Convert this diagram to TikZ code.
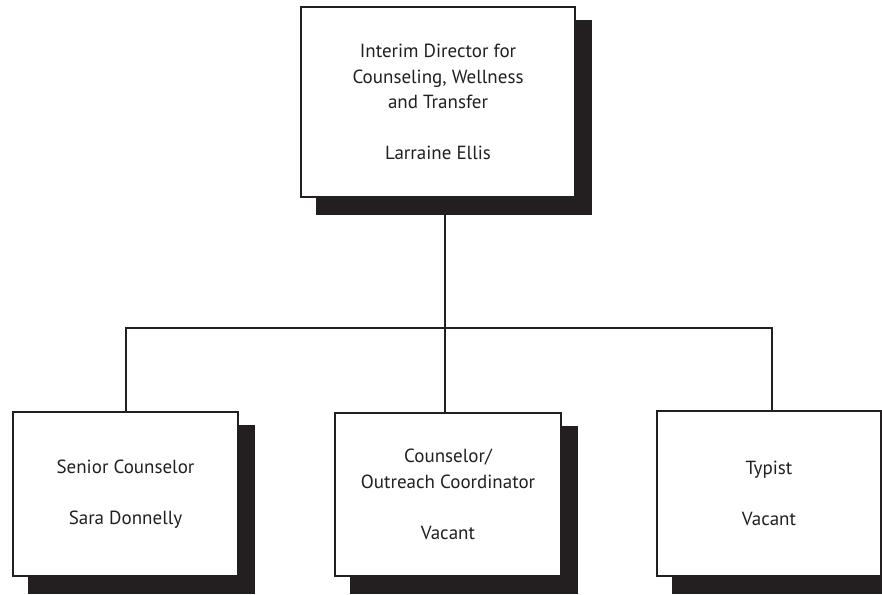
\documentclass[tikz,border=0pt]{standalone}
\usepackage{fontspec}
\setmainfont{PT Sans}
\usetikzlibrary{calc,backgrounds}
\definecolor{ink}{HTML}{231F20}
\tikzset{
  orgbox/.style={draw=ink, line width=2pt, fill=white, rectangle, inner sep=0pt,
    align=center, text=ink, font=\fontsize{19}{25.5}\selectfont},
  shadowfill/.style={fill=ink, draw=none},
  link/.style={draw=ink, line width=2pt}
}
\begin{document}
\begin{tikzpicture}[x=1pt, y=-1pt]
\useasboundingbox (0,0) rectangle (882,594);
\clip (0,0) rectangle (882,594);
% boxes
\node[orgbox, minimum width=274pt, minimum height=190pt] (top) at (438,102)
  {Interim Director for\\Counseling, Wellness\\and Transfer\\[25.5pt]Larraine Ellis};
\node[orgbox, minimum width=225pt, minimum height=164pt] (senior) at (125.5,494)
  {Senior Counselor\\[25.5pt]Sara Donnelly};
\node[orgbox, minimum width=226pt, minimum height=163pt] (middle) at (448,494.5)
  {Counselor/\\Outreach Coordinator\\[25.5pt]Vacant};
\node[orgbox, minimum width=224pt, minimum height=165pt] (typist) at (769,493.5)
  {Typist\\[25.5pt]Vacant};
% bus coordinates
\coordinate (j) at (445,328);
\coordinate (bl) at (126,328);
\coordinate (br) at (772,328);
\begin{scope}[on background layer]
  % connectors
  \draw[link] (top.south -| j) -- (j |- middle.north);
  \draw[link] (bl |- senior.north) -- (bl) -- (br) -- (br |- typist.north);
  % shadows
  \foreach \b in {top,senior,middle,typist}{
    \fill[shadowfill] ($(\b.north west)+(16,14)$) rectangle ($(\b.south east)+(16,17)$);
  }
\end{scope}
\end{tikzpicture}
\end{document}
